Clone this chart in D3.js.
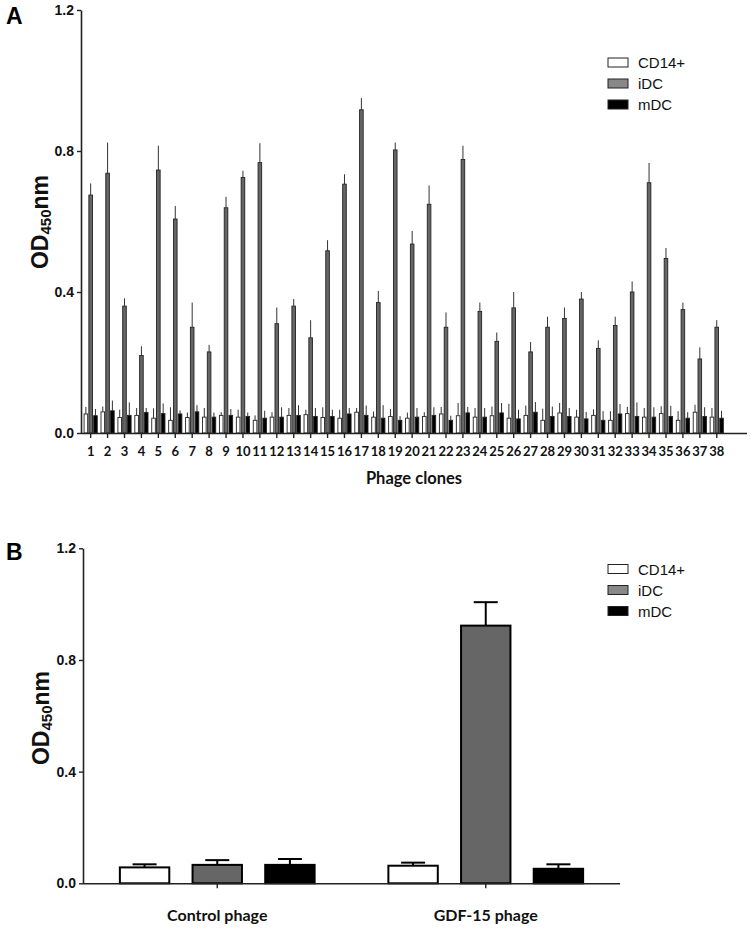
<!DOCTYPE html>
<html>
<head>
<meta charset="utf-8">
<script src="https://cdn.jsdelivr.net/npm/d3@7/dist/d3.min.js"></script>
<style>
html,body{margin:0;padding:0;background:#fff;}
svg{display:block;}
</style>
</head>
<body>
<svg id="chart" width="751" height="929"></svg>
<script>
// ---------- Panel A data ----------
const clones = ["1","2","3","4","5","6","7","8","9","10","11","12","13","14","15","16","17","18","19","20","21","22","23","24","25","26","27","28","29","30","31","32","33","34","35","36","37","38"];
const seriesNames = ["CD14+","iDC","mDC"];
const cd14A = [0.054,0.060,0.044,0.050,0.042,0.036,0.044,0.045,0.050,0.045,0.036,0.045,0.050,0.052,0.044,0.042,0.059,0.045,0.047,0.042,0.047,0.054,0.049,0.045,0.049,0.042,0.050,0.036,0.057,0.045,0.050,0.036,0.055,0.045,0.055,0.036,0.059,0.045];
const cd14AErr = [0.020,0.015,0.022,0.021,0.028,0.037,0.014,0.026,0.009,0.021,0.014,0.014,0.021,0.014,0.029,0.024,0.012,0.016,0.021,0.016,0.012,0.020,0.036,0.026,0.026,0.041,0.028,0.033,0.028,0.021,0.017,0.026,0.019,0.026,0.021,0.026,0.021,0.026];
const idcA = [0.675,0.737,0.360,0.220,0.746,0.607,0.300,0.230,0.639,0.725,0.767,0.310,0.360,0.270,0.517,0.706,0.917,0.370,0.803,0.536,0.649,0.300,0.776,0.345,0.260,0.355,0.230,0.300,0.325,0.380,0.240,0.305,0.400,0.710,0.495,0.350,0.210,0.300];
const idcAErr = [0.033,0.087,0.022,0.026,0.069,0.037,0.070,0.020,0.031,0.019,0.055,0.046,0.020,0.050,0.030,0.028,0.033,0.033,0.021,0.037,0.053,0.042,0.039,0.025,0.025,0.045,0.028,0.030,0.031,0.020,0.023,0.025,0.030,0.056,0.030,0.020,0.033,0.020];
const mdcA = [0.049,0.063,0.050,0.058,0.055,0.054,0.060,0.045,0.050,0.047,0.042,0.045,0.050,0.047,0.047,0.054,0.050,0.042,0.036,0.045,0.050,0.036,0.057,0.045,0.057,0.040,0.059,0.047,0.047,0.040,0.036,0.054,0.047,0.045,0.047,0.042,0.047,0.042];
const mdcAErr = [0.019,0.029,0.037,0.013,0.029,0.010,0.019,0.013,0.018,0.011,0.021,0.028,0.029,0.024,0.019,0.017,0.028,0.037,0.012,0.026,0.023,0.013,0.017,0.026,0.028,0.026,0.029,0.028,0.024,0.020,0.026,0.028,0.040,0.028,0.030,0.017,0.026,0.021];

// ---------- Panel B data ----------
const groupsB = ["Control phage","GDF-15 phage"];
const cd14B = [0.057,0.063];
const cd14BErr = [0.011,0.011];
const idcB = [0.066,0.923];
const idcBErr = [0.017,0.084];
const mdcB = [0.066,0.052];
const mdcBErr = [0.021,0.016];

const yTicks = [0.0,0.4,0.8,1.2];
const fills = {"CD14+":"#ffffff","iDC":"#666666","mDC":"#000000"};
const legendFills = {"CD14+":"#ffffff","iDC":"#888888","mDC":"#000000"};

const svg = d3.select("#chart");
svg.append("rect").attr("width",751).attr("height",929).attr("fill","#fff");

function buildRows(cats, vals, errs){
  return cats.map((c,i)=>({cat:c, bars: seriesNames.map((s,j)=>({s, v: vals[j][i], e: errs[j][i]}))}));
}

function drawPanel(o){
  const g = svg.append("g");
  const y = d3.scaleLinear().domain([0,1.2]).range([o.y0, o.y1]);
  const x = d3.scaleBand().domain(o.cats).range(o.xRange).padding(0);
  const xi = d3.scaleBand().domain(seriesNames).range([-o.inner, o.inner]).paddingInner(o.pi).paddingOuter(o.pi/2);
  const rows = buildRows(o.cats, o.vals, o.errs);

  const grp = g.selectAll("g.grp").data(rows).join("g")
    .attr("transform", d => `translate(${x(d.cat)+x.bandwidth()/2},0)`);
  grp.selectAll("line.err").data(d=>d.bars).join("line")
    .attr("x1", b => xi(b.s)+xi.bandwidth()/2).attr("x2", b => xi(b.s)+xi.bandwidth()/2)
    .attr("y1", b => y(b.v)).attr("y2", b => y(b.v+b.e))
    .attr("stroke", o.errColor).attr("stroke-width", o.errW);
  if (o.cap) {
    grp.selectAll("line.cap").data(d=>d.bars).join("line")
      .attr("x1", b => xi(b.s)+xi.bandwidth()/2 - o.cap).attr("x2", b => xi(b.s)+xi.bandwidth()/2 + o.cap)
      .attr("y1", b => y(b.v+b.e)).attr("y2", b => y(b.v+b.e))
      .attr("stroke", "#000").attr("stroke-width", o.errW);
  }
  grp.selectAll("rect").data(d=>d.bars).join("rect")
    .attr("x", b => xi(b.s)).attr("width", xi.bandwidth())
    .attr("y", b => y(b.v)).attr("height", b => y(0)-y(b.v))
    .attr("fill", b => fills[b.s]).attr("stroke", o.barStroke).attr("stroke-width", o.barSW);

  // y axis
  const ya = g.append("g").attr("transform",`translate(${o.axX},0)`)
    .call(d3.axisLeft(y).tickValues(yTicks).tickFormat(d3.format(".1f")).tickSize(4).tickSizeOuter(0));
  ya.select(".domain").attr("stroke","#222").attr("stroke-width",1.6);
  ya.selectAll(".tick line").attr("stroke","#222").attr("stroke-width",1.4);
  ya.selectAll(".tick text").attr("font-family","'Liberation Sans', Arial, sans-serif").attr("font-weight","bold")
    .attr("font-size",14).attr("fill","#111").attr("x",-7);

  // x axis
  const xa = g.append("g").attr("transform",`translate(0,${o.y0})`)
    .call(d3.axisBottom(x).tickSize(o.xTick).tickSizeOuter(0));
  xa.select(".domain").attr("d", `M${o.axX},0.5H${o.xEnd}`).attr("stroke","#222").attr("stroke-width",1.6);
  xa.selectAll(".tick line").attr("stroke","#222").attr("stroke-width",1.4);
  xa.selectAll(".tick text").attr("font-family","Lato, 'Open Sans', sans-serif").attr("font-weight","bold")
    .attr("font-size",o.xFont).attr("fill","#111").attr("y",o.xLabY).attr("dy","0");

  // y title
  const yt = g.append("text").attr("transform",`translate(${o.ytX},${o.ytY}) rotate(-90)`)
    .attr("text-anchor","middle").attr("font-family","'Liberation Sans', Arial, sans-serif").attr("font-weight","bold")
    .attr("font-size",23).attr("fill","#111");
  yt.append("tspan").text("OD");
  yt.append("tspan").attr("font-size",15).attr("dy",3).text("450");
  yt.append("tspan").attr("dy",-3).text("nm");

  // panel letter
  g.append("text").attr("x",6).attr("y",o.letterY).attr("font-family","'Liberation Sans', Arial, sans-serif")
    .attr("font-weight","bold").attr("font-size",23).attr("fill","#000").text(o.letter);

  // legend
  const lg = g.selectAll("g.lg").data(seriesNames).join("g")
    .attr("transform",(d,i)=>`translate(608,${o.legY + i*21})`);
  lg.append("rect").attr("x",0).attr("y",-4.5).attr("width",20).attr("height",9)
    .attr("fill",d=>legendFills[d]).attr("stroke","#222").attr("stroke-width",1);
  lg.append("text").attr("x",30).attr("y",5.5).attr("font-family","'Liberation Sans', Arial, sans-serif")
    .attr("font-size",15).attr("fill","#111").text(d=>d);

  return g;
}

// Panel A
const pA = drawPanel({
  cats: clones, vals:[cd14A, idcA, mdcA], errs:[cd14AErr, idcAErr, mdcAErr],
  y0:433, y1:10, xRange:[82.2,725.2], inner:7.2, pi:0.25,
  axX:81, xEnd:747, xTick:5, xFont:13, xLabY:23,
  errColor:"#333", errW:1, cap:0, barStroke:"#222", barSW:0.9,
  ytX:48, ytY:222, letter:"A", letterY:24, legY:62.5
});
pA.append("text").attr("x",414).attr("y",484).attr("text-anchor","middle")
  .attr("font-family","Lato, 'Open Sans', sans-serif").attr("font-weight","bold").attr("font-size",16.5)
  .attr("fill","#111").text("Phage clones");

// Panel B
drawPanel({
  cats: groupsB, vals:[cd14B, idcB, mdcB], errs:[cd14BErr, idcBErr, mdcBErr],
  y0:883.3, y1:548.3, xRange:[83,620], inner:109, pi:0.32,
  axX:83, xEnd:620, xTick:5, xFont:16, xLabY:38,
  errColor:"#000", errW:2, cap:12, barStroke:"#000", barSW:2,
  ytX:49, ytY:718, letter:"B", letterY:560, legY:569
});
</script>
</body>
</html>
